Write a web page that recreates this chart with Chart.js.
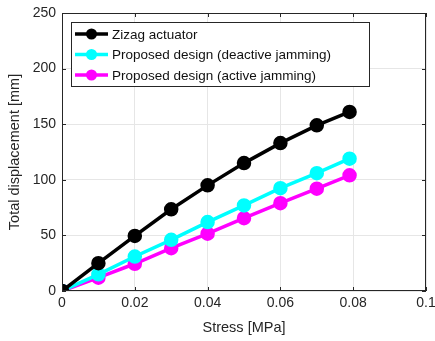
<!DOCTYPE html>
<html>
<head>
<meta charset="utf-8">
<script src="https://cdn.jsdelivr.net/npm/chart.js@4/dist/chart.umd.min.js"></script>
<style>
  body { margin: 0; background: #fff; }
  #wrap { width: 435px; height: 341px; }
</style>
</head>
<body>
<div id="wrap"><canvas id="myChart" width="435" height="341"></canvas></div>
<script>
// data
const stress = [0, 0.01, 0.02, 0.03, 0.04, 0.05, 0.06, 0.07, 0.079];
const zigzag = [0, 25, 49.5, 73.5, 95, 115, 133, 149, 161];
const deactive = [0, 15, 31, 46, 62, 77, 92.5, 106, 119];
const active = [0, 12, 24.5, 38.5, 51.5, 65.5, 79, 92, 104];
const xTicks = [0, 0.02, 0.04, 0.06, 0.08, 0.1];
const yTicks = [0, 50, 100, 150, 200, 250];
const names = ['Zizag actuator', 'Proposed design (deactive jamming)', 'Proposed design (active jamming)'];
const colors = ['#000000', '#00ffff', '#ff00ff'];

const fontFam = '"Liberation Sans", Arial, Helvetica, sans-serif';

function toPoints(ys) {
  return ys.map((y, i) => ({ x: stress[i], y: y }));
}

// box, inward ticks and legend like matlab
const boxPlugin = {
  id: 'boxPlugin',
  afterDraw(chart) {
    const c = chart.ctx;
    const a = chart.chartArea;
    const xs = chart.scales.x, ys = chart.scales.y;
    c.save();
    c.strokeStyle = '#262626';
    c.lineWidth = 1;
    c.strokeRect(a.left + 0.5, a.top + 0.5, a.right - a.left - 1, a.bottom - a.top - 1);
    c.beginPath();
    xTicks.forEach(t => {
      const px = Math.round(xs.getPixelForValue(t)) + 0.5;
      c.moveTo(px, a.bottom); c.lineTo(px, a.bottom - 4);
      c.moveTo(px, a.top); c.lineTo(px, a.top + 4);
    });
    yTicks.forEach(t => {
      const py = Math.round(ys.getPixelForValue(t)) + 0.5;
      c.moveTo(a.left, py); c.lineTo(a.left + 4, py);
      c.moveTo(a.right, py); c.lineTo(a.right - 4, py);
    });
    c.stroke();

    // legend
    const lx = 71, ly = 22, lw = 298, lh = 64;
    c.fillStyle = '#fff';
    c.fillRect(lx, ly, lw, lh);
    c.strokeStyle = '#262626';
    c.strokeRect(lx + 0.5, ly + 0.5, lw, lh);
    c.font = '13.5px ' + fontFam;
    c.textBaseline = 'middle';
    names.forEach((n, i) => {
      const y = ly + 12 + i * 20.5;
      c.strokeStyle = colors[i];
      c.lineWidth = 3.5;
      c.beginPath();
      c.moveTo(lx + 4, y); c.lineTo(lx + 37, y);
      c.stroke();
      c.fillStyle = colors[i];
      c.beginPath();
      c.arc(lx + 20.5, y, 5.5, 0, Math.PI * 2);
      c.fill();
      c.fillStyle = '#111';
      c.fillText(n, lx + 41, y + 1);
    });
    c.restore();
  }
};

var ctx = document.getElementById('myChart').getContext('2d');
var chart = new Chart(ctx, {
  type: 'line',
  data: {
    datasets: names.map((n, i) => ({
      label: n,
      data: toPoints([zigzag, deactive, active][i]),
      borderColor: colors[i],
      backgroundColor: colors[i],
      borderWidth: 3.5,
      pointRadius: 5.5,
      pointHoverRadius: 5.5,
      tension: 0
    }))
  },
  options: {
    responsive: false,
    animation: false,
    layout: { padding: { top: 13, right: 7, left: 0, bottom: 0 } },
    plugins: { legend: { display: false }, tooltip: { enabled: false } },
    scales: {
      x: {
        type: 'linear',
        min: 0, max: 0.1,
        afterBuildTicks: s => { s.ticks = xTicks.map(v => ({ value: v })); },
        afterFit: s => { s.height = 50; s.paddingRight = 0; s.paddingLeft = 0; },
        ticks: {
          color: '#262626',
          font: { family: fontFam, size: 14 },
          padding: 4,
          maxRotation: 0,
          callback: v => String(v)
        },
        grid: { color: '#e6e6e6', drawTicks: false },
        border: { display: false },
        title: {
          display: true, text: 'Stress [MPa]', color: '#262626',
          font: { family: fontFam, size: 14.5 }, padding: { top: 3 }
        }
      },
      y: {
        min: 0, max: 250,
        afterBuildTicks: s => { s.ticks = yTicks.map(v => ({ value: v })); },
        afterFit: s => { s.width = 62; s.paddingTop = 0; s.paddingBottom = 0; },
        ticks: {
          color: '#262626',
          font: { family: fontFam, size: 14 },
          padding: 6
        },
        grid: { color: '#e6e6e6', drawTicks: false },
        border: { display: false },
        title: {
          display: true, text: 'Total displacement [mm]', color: '#262626',
          font: { family: fontFam, size: 14.5 }, padding: { bottom: 0, top: 6 }
        }
      }
    }
  },
  plugins: [boxPlugin]
});
</script>
</body>
</html>
